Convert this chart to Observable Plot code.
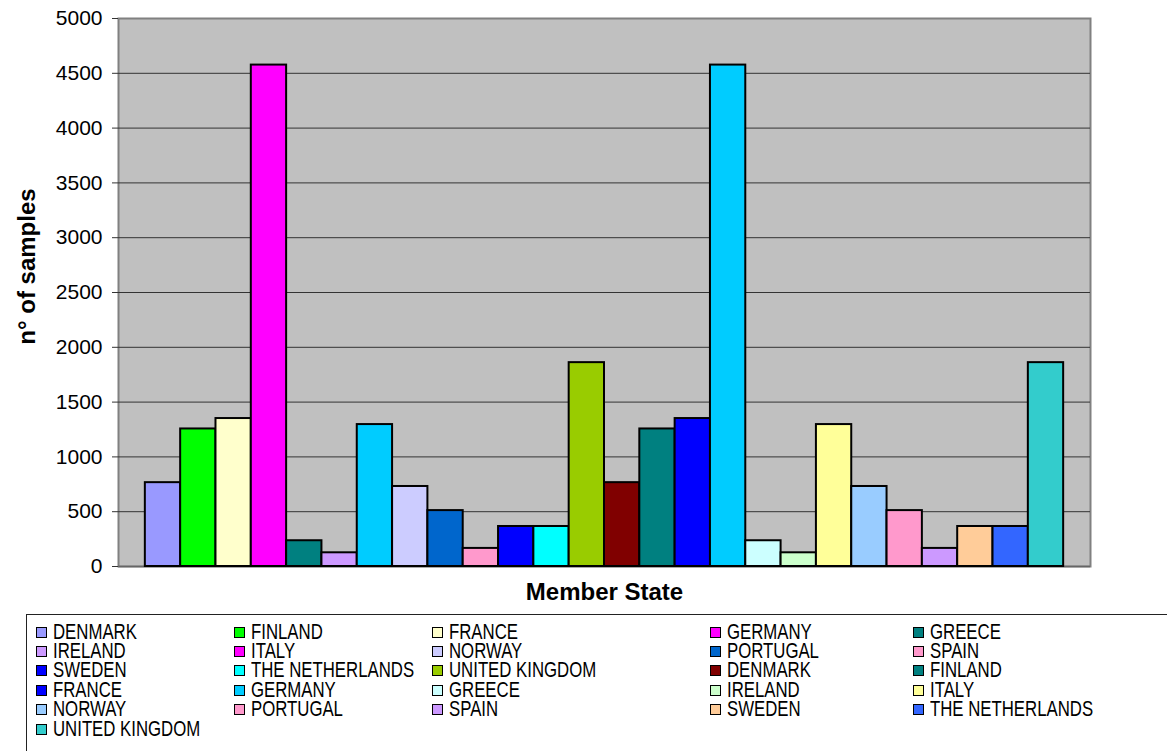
<!DOCTYPE html>
<html>
<head>
<meta charset="utf-8">
<script src="https://cdn.jsdelivr.net/npm/d3@7"></script>
<script src="https://cdn.jsdelivr.net/npm/@observablehq/plot@0.6"></script>
<style>
  html, body { margin: 0; padding: 0; background: #fff; }
  body { width: 1167px; height: 751px; position: relative; overflow: hidden; font-family: Arial, "Liberation Sans", sans-serif; }
  #chart { position: absolute; left: 0; top: 0; }
  #legend { position: absolute; left: 26px; top: 614px; width: 1200px; height: 200px; border: 1px solid #222; box-sizing: border-box; }
  .item { position: absolute; height: 17px; display: flex; align-items: center; white-space: nowrap; }
  .sw { width: 9px; height: 9px; border: 1.5px solid #000; margin-right: 6px; flex: none; }
  .lab { display: inline-block; font-size: 21.5px; line-height: 17px; height: 17px; transform: scaleX(0.78); transform-origin: left center; color: #000; }
</style>
</head>
<body>
<div id="chart"></div>
<div id="legend"></div>
<script>
// ---- data ----
const seriesNames = ["DENMARK","FINLAND","FRANCE","GERMANY","GREECE","IRELAND","ITALY","NORWAY","PORTUGAL","SPAIN","SWEDEN","THE NETHERLANDS","UNITED KINGDOM",
  "DENMARK","FINLAND","FRANCE","GERMANY","GREECE","IRELAND","ITALY","NORWAY","PORTUGAL","SPAIN","SWEDEN","THE NETHERLANDS","UNITED KINGDOM"];
const sampleCounts = [765,1255,1350,4575,235,125,1295,730,510,165,365,365,1860,
  765,1255,1350,4575,235,125,1295,730,510,165,365,365,1860];
const barColors = ["#9999FF","#00FF00","#FFFFCC","#FF00FF","#008080","#CC99FF","#00CCFF","#CCCCFF","#0066CC","#FF99CC","#0000FF","#00FFFF","#99CC00",
  "#800000","#008080","#0000FF","#00CCFF","#CCFFFF","#CCFFCC","#FFFF99","#99CCFF","#FF99CC","#CC99FF","#FFCC99","#3366FF","#33CCCC"];
const legendColors = ["#9999FF","#00FF00","#FFFFCC","#FF00FF","#008080","#CC99FF","#FF00FF","#CCCCFF","#0066CC","#FF99CC","#0000FF","#00FFFF","#99CC00",
  "#800000","#008080","#0000FF","#00CCFF","#CCFFFF","#CCFFCC","#FFFF99","#99CCFF","#FF99CC","#CC99FF","#FFCC99","#3366FF","#33CCCC"];
const yTicks = [0,500,1000,1500,2000,2500,3000,3500,4000,4500,5000];
const xTitle = "Member State";
const yTitle = "n° of samples";

const data = seriesNames.map((name, i) => ({id: i, name, value: sampleCounts[i], color: barColors[i]}));

const chart = Plot.plot({
  width: 1167,
  height: 614,
  marginLeft: 118,
  marginRight: 77,
  marginTop: 18,
  marginBottom: 48,
  style: {fontFamily: "Arial, 'Liberation Sans', sans-serif", color: "#000", background: "transparent"},
  x: {domain: data.map(d => d.id), paddingInner: 0, paddingOuter: 0.76, round: false, axis: null},
  y: {domain: [0, 5000], ticks: yTicks},
  color: {type: "identity"},
  marks: [
    Plot.frame({fill: "#C0C0C0", stroke: "#808080", strokeWidth: 2}),
    Plot.gridY(yTicks.filter(t => t > 0 && t < 5000), {stroke: "#333", strokeOpacity: 1, strokeWidth: 1}),
    Plot.ruleY([0], {stroke: "#666", strokeWidth: 1.5}),
    Plot.axisY(yTicks, {tickSize: 6, tickPadding: 10, fontSize: 21, label: null, stroke: "#333", tickFormat: d3.format("d")}),
    Plot.barY(data, {x: "id", y: "value", fill: "color", stroke: "#000", strokeWidth: 2, inset: 0}),
    Plot.text([xTitle], {frameAnchor: "bottom", dy: 33, fontSize: 24, fontWeight: "bold", fill: "#000"}),
    Plot.text([yTitle], {frameAnchor: "left", textAnchor: "middle", dx: -91, dy: -26, rotate: -90, fontSize: 24, fontWeight: "bold", fill: "#000"})
  ]
});
document.getElementById("chart").appendChild(chart);

// ---- legend ----
const legend = document.getElementById("legend");
const colX = [9, 207, 405, 683, 886];
const rowTop = 8.5, rowH = 19.4;
seriesNames.forEach((name, i) => {
  const r = Math.floor(i / 5), c = i % 5;
  const item = document.createElement("div");
  item.className = "item";
  item.style.left = colX[c] + "px";
  item.style.top = (rowTop + r * rowH) + "px";
  const sw = document.createElement("span");
  sw.className = "sw";
  sw.style.background = legendColors[i];
  const lab = document.createElement("span");
  lab.className = "lab";
  lab.textContent = name;
  item.appendChild(sw);
  item.appendChild(lab);
  legend.appendChild(item);
});
</script>
</body>
</html>
